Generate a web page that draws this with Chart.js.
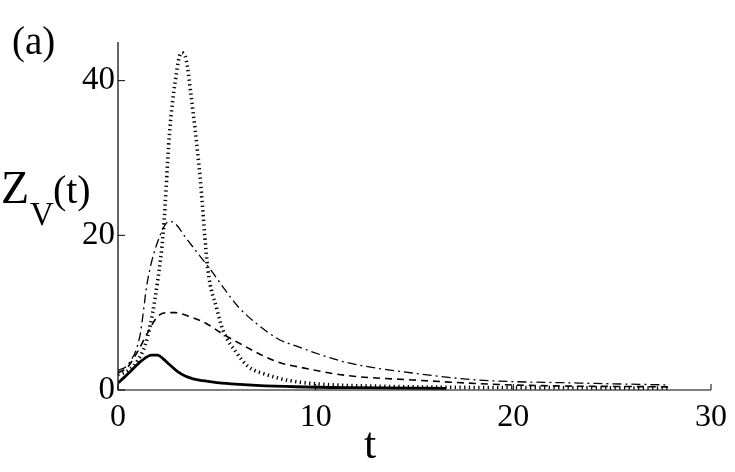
<!DOCTYPE html>
<html>
<head>
<meta charset="utf-8">
<script src="https://cdn.jsdelivr.net/npm/chart.js@4/dist/chart.umd.min.js"></script>
<style>
  html, body { margin: 0; padding: 0; background: #fff; }
  #wrap { width: 735px; height: 472px; }
</style>
</head>
<body>
<div id="wrap"><canvas id="chartCanvas" width="735" height="472"></canvas></div>
<script>
// time points and Z_V(t) values, one pair of arrays per curve
const tSolid = [0, 0.3, 0.7, 1.2, 1.7, 2.0, 2.3, 2.6, 3.0, 3.4, 3.8, 4.3, 5.0, 5.7, 7, 9, 12, 16.6];
const zSolid = [0.9, 1.6, 2.6, 3.8, 4.5, 4.5, 4.0, 3.3, 2.4, 1.8, 1.45, 1.2, 0.95, 0.8, 0.6, 0.42, 0.3, 0.2];

const tDashed = [0, 0.5, 1.0, 1.5, 2.0, 2.5, 2.9, 3.5, 4.4, 5.2, 6.1, 7.2, 8.1, 9.1, 11.5, 14.9, 20, 27.9];
const zDashed = [2.2, 3.0, 5.0, 7.4, 9.5, 10, 10, 9.6, 8.7, 7.4, 6.1, 4.6, 3.6, 3.0, 1.9, 1.3, 0.65, 0.4];

const tDashDot = [0, 0.5, 1.1, 1.5, 2.1, 2.6, 2.9, 3.4, 4.0, 4.7, 5.4, 6.1, 7.0, 8.1, 9.1, 11.5, 14.9, 18.2, 23.3, 27.9];
const zDashDot = [2.5, 3.3, 6.9, 14.2, 19.8, 21.8, 21.5, 19.8, 17.8, 15.5, 13, 10.7, 8.6, 6.6, 5.6, 3.6, 2.2, 1.3, 0.9, 0.65];

const tDotted = [0, 0.5, 1.0, 1.5, 2.0, 2.3, 2.6, 2.9, 3.2, 3.45, 3.7, 3.9, 4.15, 4.55, 5.0, 5.3, 6.0, 6.6, 7.5, 8.5, 10, 13, 17, 22, 27.9];
const zDotted = [2.0, 2.5, 3.8, 6.9, 14, 20.7, 33, 40, 43.6, 42.7, 38, 33.7, 27.6, 15.5, 10.5, 7.8, 4.8, 3, 2.0, 1.3, 0.8, 0.5, 0.35, 0.3, 0.25];

const xTicks = [0, 10, 20, 30];
const yTicks = [0, 20, 40];

const serif = '"Liberation Serif", "DejaVu Serif", serif';

function pairs(ts, zs) {
  return ts.map((t, i) => ({ x: t, y: zs[i] }));
}

function line(ts, zs, width, dash, cap) {
  return {
    data: pairs(ts, zs),
    borderColor: '#000',
    borderWidth: width,
    borderDash: dash,
    borderCapStyle: cap || 'butt',
    pointRadius: 0,
    fill: false,
    cubicInterpolationMode: 'monotone'
  };
}

// axis labels, inward tick marks and the panel letter
const decorations = {
  id: 'decorations',
  afterDraw(chart) {
    const ctx = chart.ctx;
    const xs = chart.scales.x, ys = chart.scales.y;
    const area = chart.chartArea;
    ctx.save();
    ctx.strokeStyle = '#000';
    ctx.lineWidth = 1.2;
    ctx.beginPath();
    ctx.moveTo(area.left, area.top);
    ctx.lineTo(area.left, area.bottom);
    ctx.lineTo(area.right, area.bottom);
    ctx.stroke();

    ctx.lineWidth = 1;
    xTicks.forEach(v => {
      const px = xs.getPixelForValue(v);
      ctx.beginPath();
      ctx.moveTo(px, area.bottom);
      ctx.lineTo(px, area.bottom - 6);
      ctx.stroke();
    });
    yTicks.forEach(v => {
      const py = ys.getPixelForValue(v);
      ctx.beginPath();
      ctx.moveTo(area.left, py);
      ctx.lineTo(area.left + 7, py);
      ctx.stroke();
    });

    ctx.fillStyle = '#000';
    ctx.textBaseline = 'alphabetic';
    ctx.textAlign = 'center';
    ctx.font = '44px ' + serif;
    ctx.fillText('t', 370, 458);

    ctx.textAlign = 'left';
    ctx.font = '39px ' + serif;
    ctx.fillText('(a)', 12, 54);

    ctx.font = '46px ' + serif;
    ctx.fillText('Z', 1, 203);
    const zw = ctx.measureText('Z').width;
    ctx.font = '33px ' + serif;
    ctx.fillText('V', 1 + zw + 1, 225);
    const vw = ctx.measureText('V').width;
    ctx.font = '40px ' + serif;
    ctx.fillText('(t)', 1 + zw + vw, 203);
    ctx.restore();
  }
};

new Chart(document.getElementById('chartCanvas'), {
  type: 'line',
  data: {
    datasets: [
      line(tSolid, zSolid, 2.8, []),
      line(tDashed, zDashed, 1.6, [7, 5]),
      line(tDashDot, zDashDot, 1.3, [9, 4, 2, 4]),
      line(tDotted, zDotted, 3.6, [1.3, 3.4])
    ]
  },
  options: {
    responsive: false,
    animation: false,
    layout: { padding: { left: 0, right: 22, top: 42, bottom: 0 } },
    plugins: { legend: { display: false }, tooltip: { enabled: false } },
    scales: {
      x: {
        type: 'linear',
        min: 0,
        max: 30,
        afterFit(scale) { scale.height = 82; },
        afterBuildTicks(scale) { scale.ticks = xTicks.map(v => ({ value: v })); },
        grid: { display: false, drawTicks: false },
        border: { display: false },
        ticks: { color: '#000', padding: 8, font: { family: serif, size: 32 } }
      },
      y: {
        min: 0,
        max: 45,
        afterFit(scale) { scale.width = 118; },
        afterBuildTicks(scale) { scale.ticks = yTicks.map(v => ({ value: v })); },
        grid: { display: false, drawTicks: false },
        border: { display: false },
        ticks: { color: '#000', padding: 3, font: { family: serif, size: 33 } }
      }
    }
  },
  plugins: [decorations]
});
</script>
</body>
</html>
